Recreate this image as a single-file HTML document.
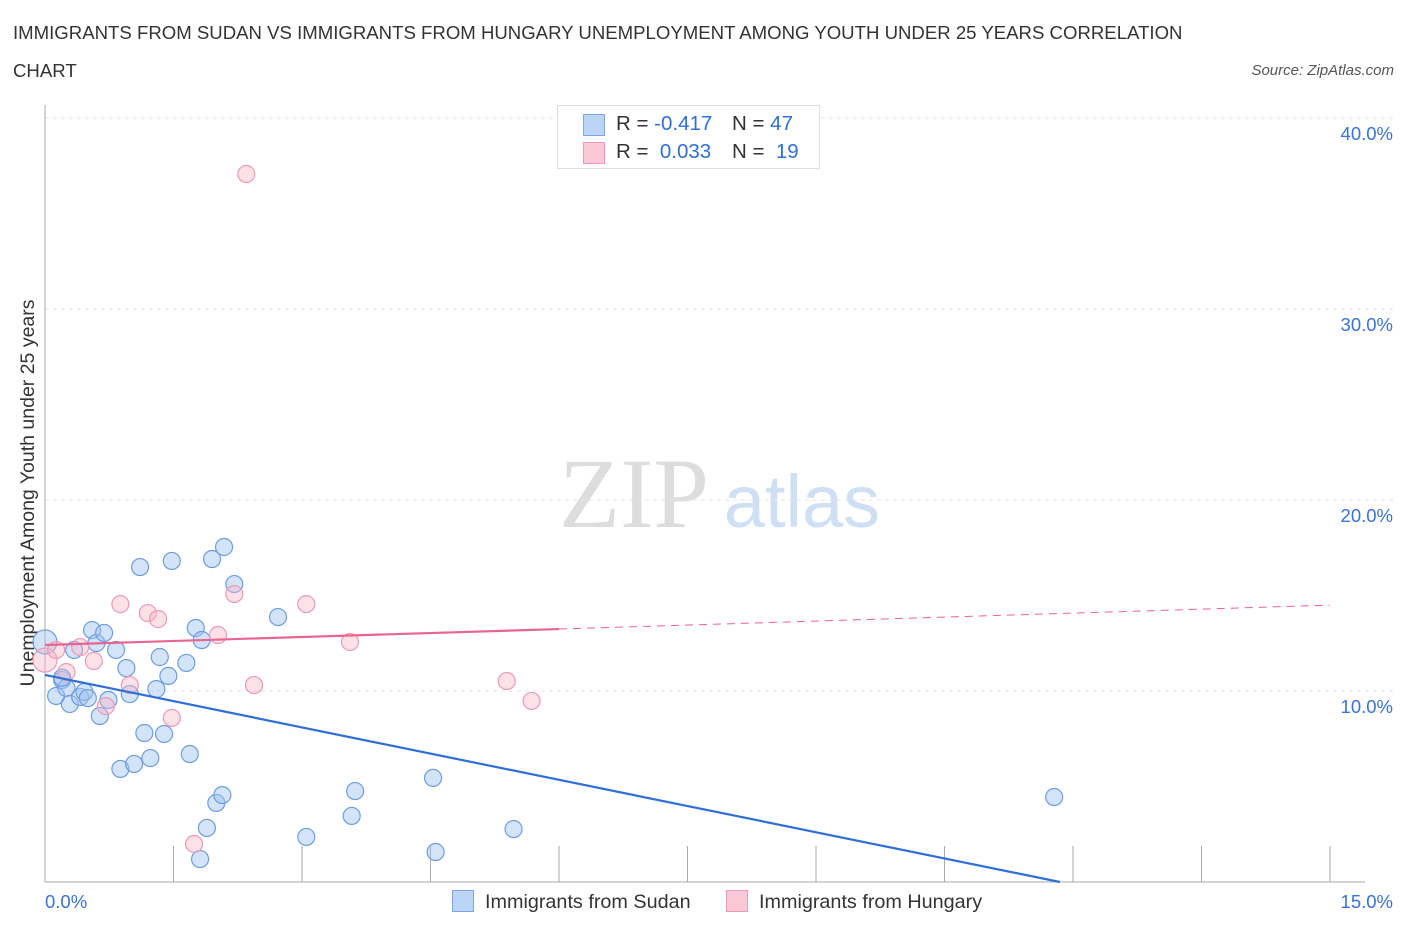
<!DOCTYPE html>
<html><head><meta charset="utf-8"><style>
body{margin:0;background:#fff;font-family:"Liberation Sans",sans-serif;}
#wrap{position:relative;width:1406px;height:930px;overflow:hidden;}
.t{position:absolute;white-space:nowrap;}
</style></head><body>
<div id="wrap">
<div class="t" style="left:13px;top:14px;font-size:18.6px;color:#333;line-height:38px;">IMMIGRANTS FROM SUDAN VS IMMIGRANTS FROM HUNGARY UNEMPLOYMENT AMONG YOUTH UNDER 25 YEARS CORRELATION<br>CHART</div>
<div class="t" style="right:12px;top:62px;font-size:15px;color:#555;font-style:italic;">Source: ZipAtlas.com</div>
<svg id="svg" width="1406" height="930" style="position:absolute;left:0;top:0"></svg>
</div>
<script>
const xMin=0,xMax=15,yMin=0,yMax=40;
const yTicks=[10,20,30,40];
const yTickLabels=["10.0%","20.0%","30.0%","40.0%"];
const xTickLabels=["0.0%","15.0%"];
const sudanX=[0,0.13,0.20,0.25,0.29,0.34,0.41,0.46,0.50,0.55,0.60,0.64,0.69,0.74,0.83,0.88,0.95,0.99,1.04,1.11,1.16,1.23,1.30,1.34,1.39,1.44,1.48,1.65,1.69,1.76,1.83,1.89,1.95,2.00,2.07,2.09,2.21,1.81,2.72,3.05,3.58,3.62,4.53,4.56,5.47,11.78,0.20];
const sudanY=[12.57,9.74,10.58,10.16,9.32,12.15,9.69,9.95,9.63,13.19,12.51,8.69,13.04,9.53,12.15,5.92,11.20,9.84,6.18,16.49,7.80,6.49,10.10,11.78,7.75,10.79,16.81,11.47,6.70,13.30,12.67,2.83,16.91,4.14,4.55,17.54,15.60,1.20,13.87,2.36,3.46,4.76,5.45,1.57,2.77,4.45,10.7];
const hungX=[0,0.13,0.25,0.41,0.57,0.71,0.88,0.99,1.20,1.32,1.48,1.74,2.02,2.21,2.35,2.44,3.05,3.56,5.39,5.68];
const hungY=[11.62,12.15,10.99,12.30,11.57,9.21,14.55,10.31,14.08,13.77,8.59,1.99,12.93,15.08,37.07,10.31,14.55,12.57,10.52,9.48];
const sudanTrend=[10.84,-0.915];
const hungTrend=[12.41,0.139];
const L=45,R=1330,T=118,B=882;
const sx=v=>L+(v-xMin)/(xMax-xMin)*(R-L);
const sy=v=>B-(v-yMin)/(yMax-yMin)*(B-T);
const svg=document.getElementById('svg');
const NS='http://www.w3.org/2000/svg';
function mk(tag,a,parent){const e=document.createElementNS(NS,tag);for(const k in a)e.setAttribute(k,a[k]);(parent||svg).appendChild(e);return e;}
let wm=mk('text',{x:634,y:527,'font-size':100,'font-family':'Liberation Serif,serif',fill:'#ddd','text-anchor':'middle'});wm.textContent='ZIP';


let wm2=mk('text',{x:802,y:527,'font-size':74,'font-family':'Liberation Sans,sans-serif',fill:'#cfe0f5','text-anchor':'middle'});wm2.textContent='atlas';


yTicks.forEach((v,i)=>{
 const g=mk('line',{x1:L,x2:1395,y1:sy(v),y2:sy(v),stroke:'#e3e3e3','stroke-dasharray':'4,4'});
 
 
 const t=mk('text',{x:1393,y:sy(v)+22,'font-size':18.5,fill:'#3a72d8','text-anchor':'end'});t.textContent=yTickLabels[i];
 
 
});
const ax=mk('line',{x1:L,x2:L,y1:105,y2:B,stroke:'#aaa'});


const bx=mk('line',{x1:L,x2:R+35,y1:B,y2:B,stroke:'#aaa'});


for(let i=0;i<=10;i++){const v=i*1.5;const tk=mk('line',{x1:sx(v),x2:sx(v),y1:B,y2:B-36,stroke:'#aaa'});
 
 }
[[0,'start',45],[1,'end',1393]].forEach(([i,anc,x])=>{const t=mk('text',{x:x,y:908,'font-size':18.5,fill:'#3a72d8','text-anchor':anc});t.textContent=xTickLabels[i];
 
 });
const yt=mk('text',{x:34,y:493,'font-size':19.5,fill:'#333','text-anchor':'middle',transform:'rotate(-90 34 493)'});yt.textContent='Unemployment Among Youth under 25 years';


function dots(X,Y,fill,stroke,name){X.forEach((x,i)=>{const r=(i===0)?12:8.5;const c=mk('circle',{cx:sx(x),cy:sy(Y[i]),r:r,fill:fill,stroke:stroke,'stroke-width':1.2});
 
 });}
dots(sudanX,sudanY,'rgba(160,195,240,0.45)','#6d9de0','sudan-point');
dots(hungX,hungY,'rgba(248,180,200,0.4)','#ee9ab4','hungary-point');
const xEnd=-sudanTrend[0]/sudanTrend[1];
const bl=mk('line',{x1:sx(0),y1:sy(sudanTrend[0]),x2:sx(xEnd),y2:sy(0),stroke:'#2f6fd6','stroke-width':2.2});


const pl=mk('line',{x1:sx(0),y1:sy(hungTrend[0]),x2:sx(6),y2:sy(hungTrend[0]+6*hungTrend[1]),stroke:'#e8658e','stroke-width':2.2});


const pd=mk('line',{x1:sx(6),y1:sy(hungTrend[0]+6*hungTrend[1]),x2:sx(15),y2:sy(hungTrend[0]+15*hungTrend[1]),stroke:'#e8658e','stroke-width':1,'stroke-dasharray':'8,6'});


</script>
<div class="t" style="left:557px;top:105px;width:261px;height:62px;border:1px solid #ddd;background:#fff;font-size:20.5px;color:#333;">
 <div style="position:absolute;left:25px;top:8px;width:20px;height:20px;background:#bcd4f6;border:1px solid #7ea6e3"></div>
 <div style="position:absolute;left:58px;top:6px">R = <span style="color:#2f6fd6">-0.417</span></div>
 <div style="position:absolute;left:174px;top:6px">N = <span style="color:#2f6fd6">47</span></div>
 <div style="position:absolute;left:25px;top:36px;width:20px;height:20px;background:#fbc8d7;border:1px solid #ee9ab4"></div>
 <div style="position:absolute;left:58px;top:34px">R = &nbsp;<span style="color:#2f6fd6">0.033</span></div>
 <div style="position:absolute;left:174px;top:34px">N = &nbsp;<span style="color:#2f6fd6">19</span></div>
</div>
<div class="t" style="left:452px;top:890px;font-size:19.8px;color:#333;"><span style="display:inline-block;width:20px;height:20px;background:#bcd4f6;border:1px solid #7ea6e3;vertical-align:-4px;margin-right:11px"></span>Immigrants from Sudan</div>
<div class="t" style="left:726px;top:890px;font-size:19.8px;color:#333;"><span style="display:inline-block;width:20px;height:20px;background:#fbc8d7;border:1px solid #ee9ab4;vertical-align:-4px;margin-right:11px"></span>Immigrants from Hungary</div>
</body></html>
